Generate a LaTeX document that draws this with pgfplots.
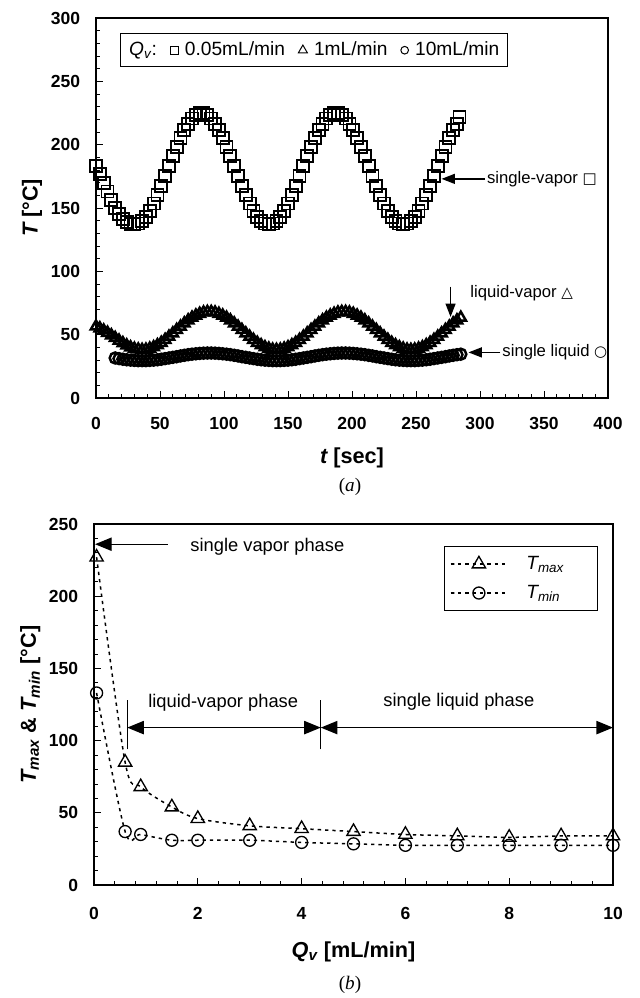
\documentclass[border=0pt]{standalone}
\usepackage{pgfplots}
\pgfplotsset{compat=1.18}
\usetikzlibrary{arrows.meta}
\usepackage{fontspec}
\setmainfont{Liberation Sans}
\newfontfamily\serifrm{Liberation Serif}
\newfontfamily\sym{DejaVu Sans}
\begin{document}
\begin{tikzpicture}
\useasboundingbox (0,0) rectangle (383.4pt,-598.8pt);
\pgfplotsset{
  common/.style={
    scale only axis, tick pos=left, tick align=inside,
    major tick length=4pt, minor tick length=2.5pt,
    axis line style={line width=0.8pt},
    every tick/.style={black, line width=0.5pt},
    /pgf/number format/assume math mode=true,
    ticklabel style={font=\fontsize{10.5}{12}\selectfont\bfseries},
    yticklabel style={xshift=-6pt},
    clip=false,
  }
}
\begin{axis}[common,
  at={(57.6pt,-10.8pt)}, anchor=north west,
  width=307.2pt, height=228pt,
  xmin=0, xmax=400, ymin=0, ymax=300,
  xtick={0,50,...,400}, ytick={0,50,...,300},
  minor x tick num=4, minor y tick num=4,
  xticklabel style={yshift=-7.8pt},
  xlabel={{\bfseries\itshape t}\bfseries\ [sec]},
  ylabel={{\bfseries\itshape T}\bfseries\ [°C]},
  xlabel style={at={(axis description cs:0.5,-0.158)}, anchor=center, font=\fontsize{13}{15}\selectfont},
  ylabel style={at={(axis description cs:-0.125,0.5)}, anchor=center, font=\fontsize{13}{15}\selectfont},
  legend style={at={(0.0475,0.96)}, anchor=north west, draw=black, line width=0.6pt,
    font=\fontsize{11.5}{13}\selectfont, inner xsep=3pt, inner ysep=3pt},
  legend columns=4,
  /tikz/every even column/.append style={column sep=6pt},
]
\addlegendimage{empty legend}
\addlegendimage{only marks, mark=square, mark size=2.4pt, line width=0.6pt}
\addlegendimage{only marks, mark=triangle, mark size=3.1pt, line width=0.6pt}
\addlegendimage{only marks, mark=o, mark size=2.3pt, line width=0.6pt}
\legend{{\itshape Q}\textsubscript{\itshape v}:\hspace{-6pt}, \hspace{2pt}0.05mL/min, \hspace{2pt}1mL/min, \hspace{2pt}10mL/min}
\addplot[forget plot, only marks, mark=square, mark size=3.6pt, line width=1.1pt] coordinates {
(0,183) (3,177) (6,170) (9,163) (12,156) (15,150) (18,145) (21,141.5) (24,139) (27,137.5)
(30,137.0) (33,137.7) (36,139.8) (39,143.2) (42,147.9) (45,153.6) (48,160.1) (51,167.4) (54,175.1) (57,183.0)
(60,190.8) (63,198.3) (66,205.2) (69,211.4) (72,216.6) (75,220.6) (78,223.4) (81,224.8) (84,224.8) (87,223.4)
(90,220.6) (93,216.6) (96,211.4) (99,205.2) (102,198.3) (105,190.8) (108,183.0) (111,175.1) (114,167.4) (117,160.1)
(120,153.6) (123,147.9) (126,143.2) (129,139.8) (132,137.7) (135,137.0) (138,137.7) (141,139.8) (144,143.2) (147,147.9)
(150,153.6) (153,160.1) (156,167.4) (159,175.1) (162,183.0) (165,190.8) (168,198.3) (171,205.2) (174,211.4) (177,216.6)
(180,220.6) (183,223.4) (186,224.8) (189,224.8) (192,223.4) (195,220.6) (198,216.6) (201,211.4) (204,205.2) (207,198.3)
(210,190.8) (213,183.0) (216,175.1) (219,167.4) (222,160.1) (225,153.6) (228,147.9) (231,143.2) (234,139.8) (237,137.7)
(240,137.0) (243,137.7) (246,139.8) (249,143.2) (252,147.9) (255,153.6) (258,160.1) (261,167.4) (264,175.1) (267,183.0)
(270,190.8) (273,198.3) (276,205.2) (279,211.4) (282,216.6) (284,222)
};
\addplot[forget plot, only marks, mark=triangle, mark size=3.6pt, line width=1.5pt] coordinates {
(0,56.5) (3,55.0) (6,53.3) (9,51.5) (12,49.5) (15,47.4) (18,45.3) (21,43.3) (24,41.5) (27,40.0)
(30,38.9) (33,38.3) (36,38.0) (39,38.2) (42,39.0) (45,40.1) (48,41.7) (51,43.6) (54,45.9) (57,48.4)
(60,51.0) (63,53.7) (66,56.3) (69,58.9) (72,61.3) (75,63.4) (78,65.1) (81,66.5) (84,67.5) (87,67.9)
(90,67.9) (93,67.5) (96,66.5) (99,65.1) (102,63.4) (105,61.3) (108,58.9) (111,56.3) (114,53.7) (117,51.0)
(120,48.4) (123,45.9) (126,43.6) (129,41.7) (132,40.1) (135,39.0) (138,38.2) (141,38.0) (144,38.2) (147,39.0)
(150,40.1) (153,41.7) (156,43.6) (159,45.9) (162,48.4) (165,51.0) (168,53.7) (171,56.3) (174,58.9) (177,61.3)
(180,63.4) (183,65.1) (186,66.5) (189,67.5) (192,67.9) (195,67.9) (198,67.5) (201,66.5) (204,65.1) (207,63.4)
(210,61.3) (213,58.9) (216,56.3) (219,53.7) (222,51.0) (225,48.4) (228,45.9) (231,43.6) (234,41.7) (237,40.1)
(240,39.0) (243,38.2) (246,38.0) (249,38.2) (252,39.0) (255,40.1) (258,41.7) (261,43.6) (264,45.9) (267,48.4)
(270,51.0) (273,53.7) (276,56.3) (279,58.9) (282,61.3) (285,63.4)
};
\addplot[forget plot, only marks, mark=o, mark size=3.3pt, line width=1.5pt] coordinates {
(15,31.6) (18,31.1) (21,30.6) (24,30.2) (27,29.9) (30,29.7) (33,29.5) (36,29.5)
(39,29.5) (42,29.7) (45,29.9) (48,30.2) (51,30.6) (54,31.1) (57,31.6) (60,32.1) (63,32.6) (66,33.2)
(69,33.7) (72,34.2) (75,34.6) (78,34.9) (81,35.2) (84,35.4) (87,35.5) (90,35.5) (93,35.4) (96,35.2)
(99,34.9) (102,34.6) (105,34.2) (108,33.7) (111,33.2) (114,32.6) (117,32.1) (120,31.6) (123,31.1) (126,30.6)
(129,30.2) (132,29.9) (135,29.7) (138,29.5) (141,29.5) (144,29.5) (147,29.7) (150,29.9) (153,30.2) (156,30.6)
(159,31.1) (162,31.6) (165,32.1) (168,32.6) (171,33.2) (174,33.7) (177,34.2) (180,34.6) (183,34.9) (186,35.2)
(189,35.4) (192,35.5) (195,35.5) (198,35.4) (201,35.2) (204,34.9) (207,34.6) (210,34.2) (213,33.7) (216,33.2)
(219,32.6) (222,32.1) (225,31.6) (228,31.1) (231,30.6) (234,30.2) (237,29.9) (240,29.7) (243,29.5) (246,29.5)
(249,29.5) (252,29.7) (255,29.9) (258,30.2) (261,30.6) (264,31.1) (267,31.6) (270,32.1) (273,32.6) (276,33.2)
(279,33.7) (282,34.2) (285,34.6)
};
% annotations
\draw[line width=0.8pt, -{Triangle[length=8pt,width=6pt]}] (axis cs:304,173) -- (axis cs:270,173);
\node[anchor=west, inner sep=1pt, font=\fontsize{10}{12}\selectfont] at (axis cs:304,173) {single-vapor {\sym\fontsize{9}{11}\selectfont □}};
\draw[line width=0.8pt, -{Triangle[length=8pt,width=6pt]}] (axis cs:277,88) -- (axis cs:277,64);
\node[anchor=west, inner sep=1pt, font=\fontsize{10}{12}\selectfont] at (axis cs:291,83) {liquid-vapor {\sym\fontsize{9}{11}\selectfont △}};
\draw[line width=0.8pt, -{Triangle[length=8pt,width=6pt]}] (axis cs:316,36) -- (axis cs:291,36);
\node[anchor=west, inner sep=1pt, font=\fontsize{10}{12}\selectfont] at (axis cs:316,36) {single liquid {\sym\fontsize{9}{11}\selectfont ○}};
\end{axis}
\node[font=\serifrm\fontsize{11.5}{13}\selectfont] at (210pt,-292.2pt) {(\textit{a})};

\begin{axis}[common,
  at={(56.4pt,-314.4pt)}, anchor=north west,
  width=311.4pt, height=216.6pt,
  xmin=0, xmax=10, ymin=0, ymax=250,
  xtick={0,2,...,10}, ytick={0,50,...,250},
  minor x tick num=4, minor y tick num=4,
  xticklabel style={yshift=-10pt},
  xlabel={{\bfseries\itshape Q}\textsubscript{\bfseries\itshape v}\bfseries\ [mL/min]},
  ylabel={{\bfseries\itshape T}\textsubscript{\bfseries\itshape max} \bfseries\& {\bfseries\itshape T}\textsubscript{\bfseries\itshape min} \bfseries[°C]},
  xlabel style={at={(axis description cs:0.5,-0.186)}, anchor=center, font=\fontsize{13}{15}\selectfont},
  ylabel style={at={(axis description cs:-0.123,0.5)}, anchor=center, font=\fontsize{13}{15}\selectfont},
  legend style={at={(0.675,0.94)}, anchor=north west, draw=black, line width=0.6pt,
    font=\fontsize{11.5}{13}\selectfont, row sep=4pt, inner xsep=3pt, inner ysep=4pt},
  legend cell align=left,
  legend image code/.code={\draw[#1, mark repeat=2, mark phase=2] plot coordinates {(0pt,0pt) (17pt,0pt) (34pt,0pt)};},
]
\addplot[black, line width=0.9pt, dash pattern=on 2pt off 2.4pt, smooth, mark=triangle, mark size=4.6pt, mark options={solid, line width=0.8pt}] coordinates {
(0.05,227) (0.6,85) (0.9,68) (1.5,54) (2,46) (3,41) (4,39) (5,37) (6,35) (7,34) (8,33) (9,34) (10,34)
};
\addlegendentry{\hspace{9pt}{\itshape T}\textsubscript{\itshape max}\rule{15pt}{0pt}}
\addplot[black, line width=0.9pt, dash pattern=on 2pt off 2.4pt, smooth, mark=o, mark size=3.6pt, mark options={solid, line width=0.8pt}] coordinates {
(0.05,133) (0.6,37) (0.9,35) (1.5,31) (2,31) (3,31) (4,29.5) (5,28.5) (6,27.5) (7,27.5) (8,27.5) (9,27.5) (10,27.5)
};
\addlegendentry{\hspace{9pt}{\itshape T}\textsubscript{\itshape min}\rule{15pt}{0pt}}
% annotations
\draw[line width=0.8pt, -{Triangle[length=10pt,width=8pt]}] (axis cs:1.42,236) -- (axis cs:0.02,236);
\node[font=\fontsize{11}{13}\selectfont] at (axis cs:3.34,234) {single vapor phase};
\draw[line width=0.8pt] (axis cs:0.64,94) -- (axis cs:0.64,128);
\draw[line width=0.8pt] (axis cs:4.37,94) -- (axis cs:4.37,128);
\draw[line width=0.8pt, {Triangle[length=10pt,width=8pt]}-{Triangle[length=10pt,width=8pt]}] (axis cs:0.64,109) -- (axis cs:4.37,109);
\draw[line width=0.8pt, {Triangle[length=10pt,width=8pt]}-{Triangle[length=10pt,width=8pt]}] (axis cs:4.37,109) -- (axis cs:10,109);
\node[font=\fontsize{11}{13}\selectfont] at (axis cs:2.49,126) {liquid-vapor phase};
\node[font=\fontsize{11}{13}\selectfont] at (axis cs:7.03,127) {single liquid phase};
\end{axis}
\node[font=\serifrm\fontsize{11.5}{13}\selectfont] at (210pt,-591pt) {(\textit{b})};
\end{tikzpicture}
\end{document}
